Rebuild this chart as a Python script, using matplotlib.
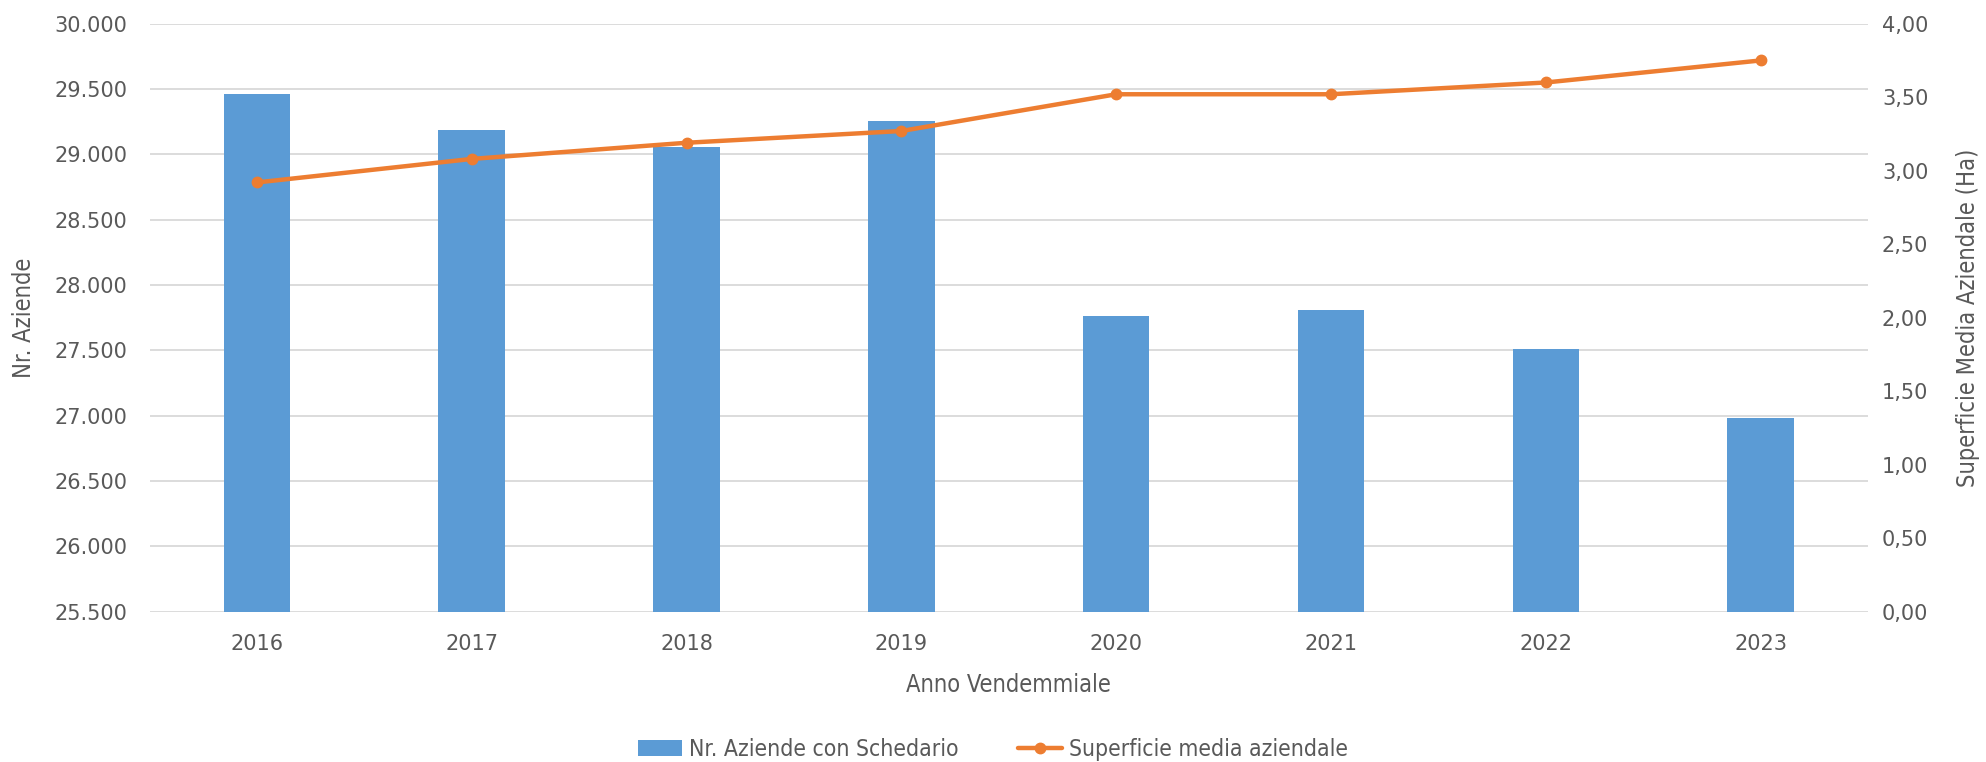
import numpy as np
import matplotlib
matplotlib.use("Agg")
import matplotlib.pyplot as plt
from matplotlib.ticker import FuncFormatter

anni = ["2016", "2017", "2018", "2019", "2020", "2021", "2022", "2023"]
aziende = [29460, 29190, 29058, 29256, 27766, 27812, 27510, 26982]
superficie = [2.92, 3.08, 3.19, 3.27, 3.52, 3.52, 3.60, 3.75]

blu = "#5B9BD5"
arancio = "#ED7D31"
grigio = "#595959"
cond = dict(family="DejaVu Sans", stretch="condensed")

fig = plt.figure(figsize=(19.86, 7.62), dpi=100)
ax = fig.add_axes([0.0753, 0.1973, 0.8653, 0.7716])
ax2 = ax.twinx()

x = np.arange(len(anni))
ax.bar(x, aziende, width=0.31, color=blu, zorder=2, label="Nr. Aziende con Schedario")
ax2.plot(x, superficie, color=arancio, lw=3.2, marker="o", ms=7.5, zorder=3,
         label="Superficie media aziendale", solid_capstyle="round")

ax.set_xlim(-0.5, 7.5)
ax.set_ylim(25500, 30000)
ax.set_yticks(np.arange(25500, 30001, 500))
ax.yaxis.set_major_formatter(FuncFormatter(lambda v, p: f"{int(v):,}".replace(",", ".")))
ax2.set_ylim(0, 4)
ax2.set_yticks(np.arange(0, 4.01, 0.5))
ax2.yaxis.set_major_formatter(FuncFormatter(lambda v, p: f"{v:.2f}".replace(".", ",")))

ax.set_xticks(x)
ax.set_xticklabels(anni)
ax.grid(axis="y", color="#D9D9D9", lw=1.3, zorder=0)
ax.set_axisbelow(True)
for a in (ax, ax2):
    for s in a.spines.values():
        s.set_visible(False)
    a.tick_params(length=0, labelsize=15, labelcolor=grigio)
ax.tick_params(axis="y", pad=16)
ax.tick_params(axis="x", pad=16)
ax2.tick_params(axis="y", pad=10)

ax.set_ylabel("Nr. Aziende", fontsize=17, color=grigio, labelpad=13, **cond)
ax2.set_ylabel("Superficie Media Aziendale (Ha)", fontsize=17, color=grigio, labelpad=20, **cond)
ax.set_xlabel("Anno Vendemmiale", fontsize=17, color=grigio, labelpad=14, **cond)

h1, l1 = ax.get_legend_handles_labels()
h2, l2 = ax2.get_legend_handles_labels()
fig.legend(h1 + h2, l1 + l2, loc="center", bbox_to_anchor=(0.5, 0.017), ncol=2,
           frameon=False, prop=dict(size=16.5, **cond), labelcolor=grigio,
           handlelength=1.9, columnspacing=2.6, handletextpad=0.3)

fig.savefig("out.png", dpi=100)
